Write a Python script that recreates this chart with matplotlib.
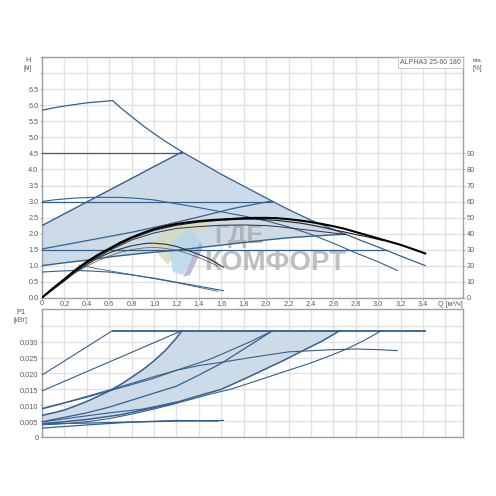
import matplotlib
matplotlib.use('Agg')
import matplotlib.pyplot as plt
import numpy as np
from matplotlib.patches import Polygon

plt.rcParams['font.family'] = ['Liberation Sans', 'DejaVu Sans']

W, H = 496, 496
LINE = '#33608c'
GRID = '#e2e2e2'
SPINE = '#a0a0a0'
TXT = '#5a5a5a'
FILL = '#cddbe9'

# top chart, H curves
q_max = [0, 0.1, 0.2, 0.3, 0.4, 0.5, 0.63, 0.7, 0.8, 0.9, 1.0, 1.1, 1.25, 1.4, 1.6, 1.8, 2.05, 2.2, 2.4, 2.55, 2.71, 2.85, 3.0, 3.2, 3.42]
h_max = [5.85, 5.92, 5.98, 6.03, 6.08, 6.11, 6.15, 5.93, 5.65, 5.37, 5.12, 4.88, 4.55, 4.25, 3.85, 3.48, 3.02, 2.75, 2.42, 2.2, 1.98, 1.78, 1.58, 1.3, 1.0]
q_const = [1.25, 2.05, 3.08]
h_const = [4.5, 3.0, 1.5]
q_prop1 = [0, 1.25]
h_prop1 = [2.25, 4.55]
q_prop2 = [0, 0.4, 0.8, 1.1, 1.4, 1.7, 2.05]
h_prop2 = [1.52, 1.78, 2.04, 2.27, 2.52, 2.78, 3.02]
q_prop3 = [0, 0.2, 0.4, 0.6, 0.8, 1.0, 1.2, 1.5, 1.8, 2.0, 2.2, 2.45, 2.71]
h_prop3 = [1.0, 1.09, 1.17, 1.27, 1.35, 1.42, 1.48, 1.6, 1.72, 1.8, 1.87, 1.93, 1.98]
q_mid = [0, 0.1, 0.2, 0.3, 0.45, 0.6, 0.7, 0.85, 1.0, 1.1, 1.2, 1.4, 1.6, 1.8, 2.0, 2.2, 2.4, 2.6, 2.8, 3.0, 3.17]
h_mid = [3.0, 3.05, 3.08, 3.11, 3.13, 3.13, 3.13, 3.1, 3.05, 2.99, 2.93, 2.81, 2.68, 2.55, 2.4, 2.21, 1.98, 1.7, 1.4, 1.12, 0.85]
q_low1 = [0, 0.15, 0.3, 0.45, 0.6, 0.8, 1.0, 1.3, 1.62]
h_low1 = [0.8, 0.83, 0.85, 0.83, 0.8, 0.71, 0.61, 0.42, 0.22]
q_low2 = [0.33, 0.5, 0.8, 1.2, 1.57]
h_low2 = [1.02, 0.9, 0.72, 0.47, 0.2]

# efficiency curves, read on the H scale
q_eta1 = [0, 0.1, 0.2, 0.3, 0.4, 0.5, 0.6, 0.7, 0.8, 0.9, 1.0, 1.1, 1.2, 1.3, 1.4, 1.5, 1.6, 1.7, 1.8, 1.9, 2.0, 2.1, 2.2, 2.3, 2.4, 2.5, 2.6, 2.7, 2.8, 2.9, 3.0, 3.1, 3.2, 3.3, 3.42]
e_eta1 = [0, 0.3, 0.58, 0.87, 1.12, 1.34, 1.53, 1.72, 1.88, 2.02, 2.14, 2.23, 2.3, 2.35, 2.39, 2.42, 2.44, 2.46, 2.48, 2.49, 2.49, 2.48, 2.45, 2.41, 2.36, 2.3, 2.23, 2.15, 2.05, 1.95, 1.85, 1.75, 1.65, 1.53, 1.38]
q_eta2 = [0, 0.2, 0.4, 0.6, 0.8, 1.0, 1.2, 1.4, 1.6, 1.8, 1.9, 2.0, 2.1, 2.2, 2.3, 2.4, 2.5, 2.6, 2.7, 2.8, 2.9, 3.05]
e_eta2 = [0, 0.56, 1.1, 1.5, 1.85, 2.1, 2.26, 2.36, 2.42, 2.45, 2.45, 2.43, 2.41, 2.37, 2.33, 2.27, 2.2, 2.12, 2.05, 1.97, 1.9, 1.78]
q_eta3 = [0, 0.2, 0.4, 0.6, 0.8, 1.0, 1.2, 1.4, 1.6, 1.8, 2.0, 2.1, 2.2, 2.3, 2.4, 2.55, 2.71]
e_eta3 = [0, 0.54, 1.07, 1.47, 1.8, 2.02, 2.16, 2.22, 2.26, 2.27, 2.25, 2.22, 2.18, 2.14, 2.1, 2.04, 1.97]
q_eta4 = [0, 0.2, 0.3, 0.4, 0.5, 0.6, 0.7, 0.8, 0.9, 0.95, 1.0, 1.1, 1.2, 1.3, 1.4, 1.5, 1.62]
e_eta4 = [0, 0.52, 0.8, 1.03, 1.24, 1.4, 1.52, 1.62, 1.68, 1.7, 1.7, 1.67, 1.6, 1.48, 1.35, 1.2, 0.95]
q_eta5 = [0.3, 0.4, 0.5, 0.6, 0.7, 0.8, 0.9, 1.0, 1.1, 1.2, 1.3, 1.4, 1.5, 1.57]
e_eta5 = [0.78, 0.98, 1.16, 1.3, 1.42, 1.5, 1.55, 1.57, 1.54, 1.48, 1.38, 1.25, 1.1, 0.98]

# bottom chart, P1 curves
q_plim = [0.63, 3.42]
p_plim = [0.0335, 0.0335]
q_p1 = [0, 0.63]
p_p1 = [0.0195, 0.0335]
q_p2 = [0, 1.25]
p_p2 = [0.0145, 0.0335]
q_p3 = [0, 0.1, 0.2, 0.3, 0.4, 0.5, 0.6, 0.7, 0.8, 0.9, 1.0, 1.1, 1.2, 1.25]
p_p3 = [0.0068, 0.0076, 0.0085, 0.0098, 0.0112, 0.0128, 0.0145, 0.0165, 0.0188, 0.0212, 0.024, 0.0272, 0.0312, 0.0335]
q_p4 = [0, 0.2, 0.4, 0.6, 0.8, 1.0, 1.2, 1.5, 1.86, 2.06]
p_p4 = [0.0088, 0.0107, 0.0125, 0.0145, 0.0165, 0.0185, 0.021, 0.0245, 0.030, 0.0335]
q_p5 = [0, 0.2, 0.4, 0.6, 0.8, 1.0, 1.2, 1.4, 1.6, 1.86, 2.06]
p_p5 = [0.0048, 0.0062, 0.0076, 0.0094, 0.0116, 0.0138, 0.016, 0.0195, 0.0232, 0.029, 0.0335]
q_p6 = [0, 0.2, 0.4, 0.7, 1.0, 1.2, 1.4, 1.6, 1.86, 2.2, 2.6, 2.8, 3.0, 3.17]
p_p6 = [0.009, 0.0108, 0.0128, 0.0158, 0.019, 0.021, 0.0225, 0.0235, 0.025, 0.0268, 0.0275, 0.0277, 0.0275, 0.0272]
q_p7 = [0, 0.2, 0.4, 0.7, 1.0, 1.2, 1.4, 1.6, 1.85, 2.0, 2.15, 2.33, 2.5, 2.66]
p_p7 = [0.0042, 0.0048, 0.0055, 0.007, 0.0092, 0.0109, 0.013, 0.015, 0.019, 0.0215, 0.024, 0.0272, 0.0302, 0.0335]
q_p8 = [0, 0.3, 0.6, 0.9, 1.2]
p_p8 = [0.0047, 0.0062, 0.0076, 0.0088, 0.011]
q_p9 = [0, 0.2, 0.4, 0.6, 0.8, 1.0, 1.2, 1.5, 1.68, 1.9, 2.19, 2.39, 2.55, 2.72, 2.88, 3.03]
p_p9 = [0.0038, 0.0042, 0.0048, 0.0058, 0.0072, 0.0088, 0.0106, 0.0135, 0.015, 0.0175, 0.0209, 0.0232, 0.0253, 0.0277, 0.0305, 0.0335]
q_p10 = [0, 0.4, 0.8, 1.2, 1.62]
p_p10 = [0.0028, 0.0038, 0.0047, 0.005, 0.0052]
q_p11 = [0, 0.3, 0.8, 1.2, 1.57]
p_p11 = [0.0042, 0.0043, 0.0047, 0.0052, 0.005]

q_ticks = [round(0.2 * i, 1) for i in range(19)]
h_ticks = [0.5 * i for i in range(16)]
eta_ticks = list(range(0, 100, 10))
p_ticks = [0, 0.005, 0.010, 0.015, 0.020, 0.025, 0.030]


def px_rect(left, top, right, bottom):
    return [left / W, 1 - bottom / H, (right - left) / W, (bottom - top) / H]


def setup(ax, ymax):
    ax.set_xlim(0, 3.76)
    ax.set_ylim(0, ymax)
    ax.set_axisbelow(True)
    ax.set_xticks(q_ticks)
    ax.grid(True, color=GRID, lw=1.0)
    for s in ax.spines.values():
        s.set_color(SPINE)
        s.set_linewidth(1.0)
    ax.tick_params(colors=TXT, labelsize=5.3, length=1.5, width=0.6, color=SPINE, pad=1)


def px_poly(ax, pts, color):
    xy = [(x / W, 1 - y / H) for x, y in pts]
    ax.add_patch(Polygon(xy, closed=True, transform=ax.figure.transFigure, fc=color, ec='none', alpha=0.85, zorder=2))


fig = plt.figure(figsize=(W / 100, H / 100), dpi=100)

ax = fig.add_axes(px_rect(42, 57.3, 463.3, 297.7))
setup(ax, 7.5)
ax.set_yticks(h_ticks)
ax.set_yticklabels(['%.1f' % v if v <= 6.5 else '' for v in h_ticks])
ax.set_xticklabels(['0' if v == 0 else ('%.1f' % v).replace('.', ',') if v < 3.5 else '' for v in q_ticks])
ax.tick_params(axis='x', pad=0.5)

# operating area
qa = np.array(q_max)
top_side = (qa >= 1.25) & (qa <= 2.71)
area_q = q_prop1 + list(qa[top_side]) + q_prop3[::-1]
area_h = h_prop1 + [h_max[i] for i in np.where(top_side)[0]] + h_prop3[::-1]
ax.fill(area_q, area_h, color=FILL, lw=0, zorder=1.5)

# watermark logo and text sit under the curves
px_poly(ax, [(150, 245), (170, 227), (203, 218), (210, 227), (183, 240), (168, 265)], '#d5dcc0')
px_poly(ax, [(168, 245), (190, 228), (202, 243), (183, 275), (173, 272)], '#b5d8e8')
px_poly(ax, [(183, 277), (200, 242), (203, 247), (190, 275)], '#b4aed6')
ax.text(239 / W, 1 - 236 / H, 'ГДЕ', transform=fig.transFigure, fontsize=18.5, fontweight='bold',
        color='#a4a4a4', alpha=0.7, ha='center', va='center', zorder=2)
ax.text(275 / W, 1 - 263 / H, 'КОМФОРТ', transform=fig.transFigure, fontsize=20, fontweight='bold',
        color='#a4a4a4', alpha=0.7, ha='center', va='center', zorder=2)

ax.plot(q_max, h_max, color=LINE, lw=0.9, zorder=3)
for qe, he in zip(q_const, h_const):
    ax.plot([0, qe], [he, he], color=LINE, lw=0.9, zorder=3)
ax.plot(q_prop1, h_prop1, color=LINE, lw=1.0, zorder=3)
ax.plot(q_prop2, h_prop2, color=LINE, lw=0.9, zorder=3)
ax.plot(q_prop3, h_prop3, color=LINE, lw=1.0, zorder=3)
ax.plot(q_mid, h_mid, color=LINE, lw=0.8, zorder=3)
ax.plot(q_low1, h_low1, color=LINE, lw=0.8, zorder=3)
ax.plot(q_low2, h_low2, color=LINE, lw=0.6, zorder=3)

ax.plot(q_eta2, e_eta2, color='#222222', lw=0.8, zorder=4)
ax.plot(q_eta3, e_eta3, color='#333333', lw=0.7, zorder=4)
ax.plot(q_eta4, e_eta4, color='#333333', lw=0.8, zorder=4)
ax.plot(q_eta5, e_eta5, color='#555555', lw=0.5, zorder=4)
ax.plot(q_eta1, e_eta1, color='black', lw=1.5, zorder=4)

axr = ax.twinx()
axr.set_ylim(0, 150)
axr.set_yticks(eta_ticks)
axr.tick_params(colors=TXT, labelsize=5.3, length=1.5, width=0.6, color=SPINE, pad=1)
for s in axr.spines.values():
    s.set_visible(False)

fig.text(461 / W, 1 - 62.5 / H, 'ALPHA3 25-60 180', ha='right', va='center', fontsize=5.0,
         color=TXT, zorder=6,
         bbox=dict(boxstyle='square,pad=0.35', fc='white', ec='#bbbbbb', lw=0.6))

fig.text(28 / W, 1 - 60 / H, 'H', fontsize=5.3, color=TXT, ha='center', va='center')
fig.text(28 / W, 1 - 68 / H, '[м]', fontsize=4.8, color=TXT, ha='center', va='center')
fig.text(477 / W, 1 - 60 / H, 'eta', fontsize=4.5, color=TXT, ha='center', va='center')
fig.text(477 / W, 1 - 68 / H, '[%]', fontsize=4.8, color=TXT, ha='center', va='center')
fig.text(450 / W, 1 - 304 / H, 'Q [м³/ч]', fontsize=5.2, color=TXT, ha='center', va='center')
fig.text(21 / W, 1 - 312 / H, 'P1', fontsize=5.3, color=TXT, ha='center', va='center')
fig.text(21 / W, 1 - 320 / H, '[кВт]', fontsize=4.8, color=TXT, ha='center', va='center')

axp = fig.add_axes(px_rect(42, 309.3, 463.3, 437))
setup(axp, 0.0402)
axp.set_yticks(p_ticks + [0.035])
axp.set_yticklabels(['0', '0,005', '0,010', '0,015', '0,020', '0,025', '0,030', ''])
axp.tick_params(labelbottom=False, bottom=False)

area_pq = q_p3 + q_p7[::-1]
area_pp = p_p3 + p_p7[::-1]
axp.fill(area_pq, area_pp, color=FILL, lw=0, zorder=1.5)

axp.plot(q_plim, p_plim, color=LINE, lw=1.3, zorder=3)
for qp, pp, lw in [(q_p1, p_p1, 0.8), (q_p2, p_p2, 0.8), (q_p3, p_p3, 1.1), (q_p4, p_p4, 0.8),
                   (q_p5, p_p5, 0.9), (q_p6, p_p6, 0.8), (q_p7, p_p7, 1.1), (q_p8, p_p8, 0.8),
                   (q_p9, p_p9, 0.8), (q_p10, p_p10, 0.9), (q_p11, p_p11, 0.9)]:
    axp.plot(qp, pp, color=LINE, lw=lw, zorder=3)

fig.savefig('out.png', dpi=100)
